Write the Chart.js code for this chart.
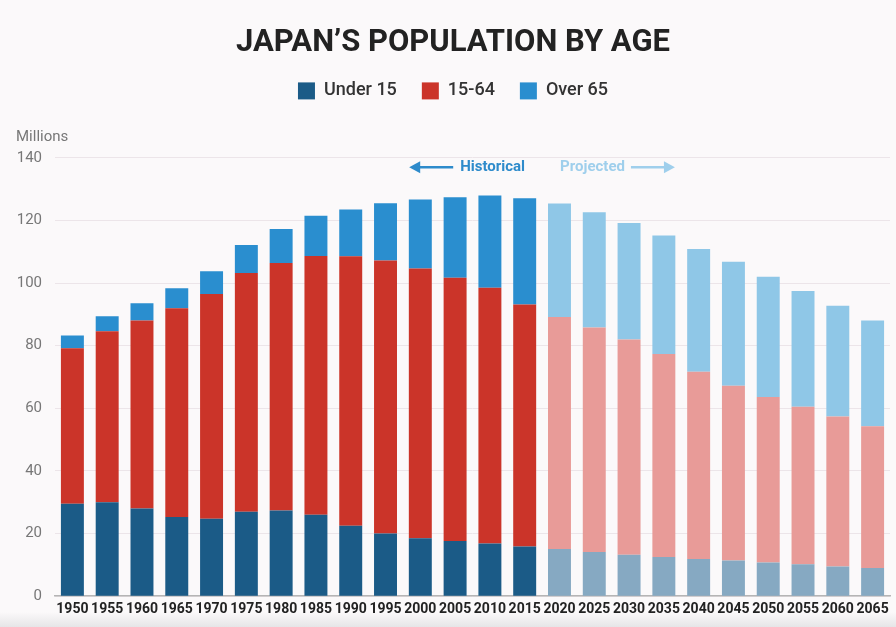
<!DOCTYPE html>
<html>
<head>
<meta charset="utf-8">
<script src="https://cdn.jsdelivr.net/npm/chart.js@4.4.0/dist/chart.umd.min.js"></script>
<style>
  html, body { margin: 0; padding: 0; }
  body { background: linear-gradient(to bottom, #fbf9fa 0px, #fbf9fa 612px, #e6e5e7 627px); }
  #wrap { width: 896px; height: 627px; }
</style>
</head>
<body>
<div id="wrap"><canvas id="popChart"></canvas></div>
<script>
var years = [1950, 1955, 1960, 1965, 1970, 1975, 1980, 1985, 1990, 1995, 2000, 2005,
             2010, 2015, 2020, 2025, 2030, 2035, 2040, 2045, 2050, 2055, 2060, 2065];
var under15 = [29.5, 30.0, 28.0, 25.3, 24.7, 27.0, 27.4, 26.0, 22.5, 20.0, 18.5, 17.6,
               16.8, 15.9, 15.1, 14.1, 13.2, 12.5, 11.9, 11.4, 10.8, 10.2, 9.5, 9.0];
var age15to64 = [49.7, 54.6, 60.1, 66.7, 71.8, 76.2, 79.0, 82.7, 86.1, 87.2, 86.2, 84.1,
                 81.7, 77.3, 74.1, 71.7, 68.8, 64.9, 59.8, 55.8, 52.8, 50.3, 47.9, 45.3];
var over65 = [4.1, 4.8, 5.5, 6.4, 7.3, 9.0, 10.9, 12.8, 14.9, 18.3, 22.0, 25.7,
              29.5, 33.9, 36.2, 36.8, 37.2, 37.8, 39.2, 39.6, 38.4, 37.0, 35.4, 33.8];
var yTicks = [0, 20, 40, 60, 80, 100, 120, 140];
var lastHistorical = 2015;

function colorFor(hist, proj) {
    return function (c) {
        if (c.type === 'data' && years[c.dataIndex] > lastHistorical) return proj;
        return hist;
    };
}

// Historical / Projected arrows above the bars
var periodLabels = {
    id: 'periodLabels',
    afterDatasetsDraw: function (chart) {
        var ctx = chart.ctx;
        var x = chart.scales.x, y = chart.scales.y;
        var i = years.indexOf(lastHistorical);
        var mid = (x.getPixelForValue(i) + x.getPixelForValue(i + 1)) / 2;
        var yy = y.getPixelForValue(137);
        ctx.save();
        ctx.font = 'bold 15px Roboto';
        ctx.textBaseline = 'middle';

        ctx.fillStyle = '#2e8bcb';
        ctx.strokeStyle = '#2e8bcb';
        ctx.textAlign = 'right';
        var t1 = 'Historical';
        var w1 = ctx.measureText(t1).width;
        var r1 = mid - 17;
        ctx.fillText(t1, r1, yy);
        drawArrow(ctx, r1 - w1 - 7, r1 - w1 - 51, yy);

        ctx.fillStyle = '#9fcfec';
        ctx.strokeStyle = '#9fcfec';
        ctx.textAlign = 'left';
        var t2 = 'Projected';
        var w2 = ctx.measureText(t2).width;
        var l2 = mid + 18;
        ctx.fillText(t2, l2, yy);
        drawArrow(ctx, l2 + w2 + 6, l2 + w2 + 50, yy);
        ctx.restore();
    }
};

function drawArrow(ctx, from, to, yy) {
    var dir = to > from ? 1 : -1;
    ctx.lineWidth = 2.5;
    ctx.beginPath();
    ctx.moveTo(from, yy);
    ctx.lineTo(to - dir * 8, yy);
    ctx.stroke();
    ctx.beginPath();
    ctx.moveTo(to, yy);
    ctx.lineTo(to - dir * 11, yy - 6);
    ctx.lineTo(to - dir * 11, yy + 6);
    ctx.closePath();
    ctx.fill();
}

new Chart("popChart", {
    type: "bar",
    data: {
        labels: years,
        datasets: [{
            label: 'Under 15',
            data: under15,
            backgroundColor: colorFor('#1b5b87', '#86a9c2')
        }, {
            label: '15-64',
            data: age15to64,
            backgroundColor: colorFor('#cb3429', '#e89b98')
        }, {
            label: 'Over 65',
            data: over65,
            backgroundColor: colorFor('#2a8ecf', '#8fc7e7')
        }]
    },
    plugins: [periodLabels],
    options: {
        responsive: true,
        maintainAspectRatio: false,
        animation: false,
        datasets: {
            bar: { barPercentage: 0.66, categoryPercentage: 1 }
        },
        layout: { padding: { left: 16, right: 6, bottom: 4, top: 0 } },
        plugins: {
            title: {
                display: true,
                text: 'JAPAN\u2019S POPULATION BY AGE',
                color: '#222',
                font: { family: 'Roboto', size: 31, weight: 'bold', lineHeight: 0.9 },
                padding: { top: 29, bottom: 0 }
            },
            legend: {
                display: true,
                labels: {
                    boxWidth: 17,
                    boxHeight: 17,
                    padding: 25,
                    color: '#333',
                    font: { family: 'Roboto', size: 18, weight: '500' }
                }
            },
            subtitle: {
                display: true,
                text: 'Millions',
                align: 'start',
                weight: 500,
                color: '#777',
                font: { family: 'Roboto', size: 15 },
                padding: { top: 18, bottom: 12 }
            },
            tooltip: { enabled: false }
        },
        scales: {
            x: {
                stacked: true,
                grid: { display: false, drawTicks: false },
                border: { display: true, color: '#b5b5b5', width: 1.5 },
                ticks: {
                    color: '#222',
                    padding: 5,
                    maxRotation: 0,
                    autoSkip: false,
                    font: { family: 'Roboto', size: 14, weight: 'bold' }
                }
            },
            y: {
                stacked: true,
                min: 0,
                max: 140,
                afterBuildTicks: function (axis) {
                    axis.ticks = yTicks.map(function (v) { return { value: v }; });
                },
                afterFit: function (axis) { axis.width = 39; },
                grid: { color: '#ece5e9', lineWidth: 1, drawTicks: false },
                border: { display: false },
                ticks: {
                    color: '#777',
                    padding: 13,
                    font: { family: 'Roboto', size: 15 }
                }
            }
        }
    }
});
</script>
</body>
</html>
